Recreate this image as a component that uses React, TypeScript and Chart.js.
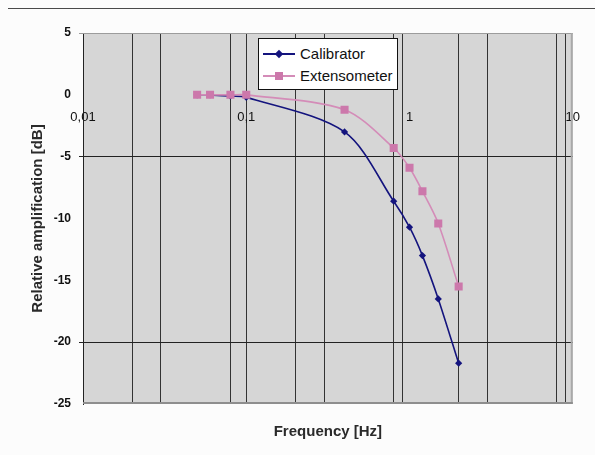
import React, { useEffect, useRef } from 'react';
import { Chart, registerables } from 'chart.js';

Chart.register(...registerables);

// ---- data ----
const frequencies = [0.05, 0.06, 0.08, 0.1, 0.4, 0.8, 1, 1.2, 1.5, 2];
const calibrator = [0, 0, -0.1, -0.2, -3.0, -8.6, -10.7, -13.0, -16.5, -21.7];
const extensometer = [0, 0, 0, 0, -1.2, -4.3, -5.9, -7.8, -10.4, -15.5];

const xTickValues = [0.01, 0.02, 0.03, 0.08, 0.1, 0.2, 0.3, 0.8, 0.9, 1, 2, 3, 8, 9, 10];
const xGridValues = [0.02, 0.03, 0.08, 0.1, 0.2, 0.3, 0.8, 0.9, 2, 3, 8, 9];
const xLabelValues = [0.01, 0.1, 1, 10];
const xLabelTexts = ['0,01', '0,1', '1', '10'];
const yGridValues = [-5, -20];

const FONT = 'Arial, "Liberation Sans", sans-serif';
const NAVY = '#14147e';
const PINK_MARK = '#cc78ab';
const PINK_LINE = '#d48cb8';

const near = (a: number, b: number) => Math.abs(a - b) < 1e-9;

const plotFrame = {
  id: 'plotFrame',
  beforeDraw(chart: any) {
    const { ctx, chartArea } = chart;
    const { left, top, right, bottom } = chartArea;
    ctx.save();
    ctx.fillStyle = '#d6d6d6';
    ctx.fillRect(left, top, right - left, bottom - top);
    ctx.restore();
  },
  beforeDatasetsDraw(chart: any) {
    const { ctx, chartArea } = chart;
    const { left, top, right, bottom } = chartArea;
    ctx.save();
    ctx.fillStyle = '#9c9c9c';
    ctx.fillRect(left, top, right - left, 1);
    ctx.fillStyle = '#a9a9a9';
    ctx.fillRect(right - 2, top, 2, bottom - top);
    ctx.fillStyle = '#8e8e8e';
    ctx.fillRect(left, bottom - 2, right - left, 2);
    ctx.restore();
  },
};

function LegendSample({ color, lineColor, shape }: { color: string; lineColor: string; shape: 'diamond' | 'square' }) {
  return (
    <div style={{ position: 'relative', width: 32, height: 12, marginRight: 5 }}>
      <div style={{ position: 'absolute', left: 0, right: 0, top: 5, height: 2, background: lineColor }} />
      {shape === 'diamond' ? (
        <div style={{ position: 'absolute', left: 13, top: 3, width: 6, height: 6, background: color, transform: 'rotate(45deg)' }} />
      ) : (
        <div style={{ position: 'absolute', left: 12, top: 2, width: 8, height: 8, background: color }} />
      )}
    </div>
  );
}

export default function App() {
  const canvasRef = useRef<HTMLCanvasElement | null>(null);

  useEffect(() => {
    document.body.style.background = '#fcfcfc';
    const canvas = canvasRef.current;
    if (!canvas) return;
    const chart = new Chart(canvas, {
      type: 'line',
      data: {
        datasets: [
          {
            label: 'Extensometer',
            data: frequencies.map((f, i) => ({ x: f, y: extensometer[i] })),
            borderColor: PINK_LINE,
            backgroundColor: PINK_MARK,
            pointBackgroundColor: PINK_MARK,
            pointBorderColor: PINK_MARK,
            pointStyle: 'rect',
            pointRadius: 5.7,
            pointBorderWidth: 0,
            borderWidth: 1.6,
            tension: 0.3,
            xAxisID: 'x',
            yAxisID: 'y',
            order: 1,
          },
          {
            label: 'Calibrator',
            data: frequencies.map((f, i) => ({ x: f, y: calibrator[i] })),
            borderColor: NAVY,
            backgroundColor: NAVY,
            pointBackgroundColor: NAVY,
            pointBorderColor: NAVY,
            pointStyle: 'rectRot',
            pointRadius: 3.6,
            pointBorderWidth: 0,
            borderWidth: 1.6,
            tension: 0.3,
            xAxisID: 'x',
            yAxisID: 'y',
            order: 2,
          },
        ],
      },
      options: {
        animation: false,
        responsive: false,
        events: [],
        layout: { padding: { top: 33, right: 20, left: 0, bottom: 0 } },
        plugins: {
          legend: { display: false },
          tooltip: { enabled: false },
          title: { display: false },
        },
        scales: {
          x: {
            type: 'logarithmic',
            position: { y: 0 } as any,
            min: 0.01,
            max: 10,
            afterBuildTicks: (scale: any) => {
              scale.ticks = xTickValues.map((v) => ({ value: v }));
            },
            ticks: {
              autoSkip: false,
              maxRotation: 0,
              minRotation: 0,
              padding: 15,
              color: '#111',
              font: { family: FONT, size: 13 },
              callback: (value: any) => {
                const idx = xLabelValues.findIndex((v) => near(v, Number(value)));
                return idx >= 0 ? xLabelTexts[idx] : '';
              },
            },
            grid: {
              drawTicks: false,
              lineWidth: 1,
              color: (ctx: any) =>
                ctx.tick && xGridValues.some((v) => near(v, ctx.tick.value)) ? '#333333' : 'rgba(0,0,0,0)',
            },
            border: { display: false },
          },
          x2: {
            type: 'linear',
            position: 'bottom',
            display: true,
            afterFit: (scale: any) => {
              scale.height = 51;
            },
            ticks: { display: false },
            grid: { display: false, drawTicks: false },
            border: { display: false },
            title: {
              display: true,
              text: 'Frequency [Hz]',
              color: '#2a2a2a',
              font: { family: FONT, size: 15, weight: 'bold' },
              padding: { top: 0, bottom: 14 },
            },
          },
          y: {
            type: 'linear',
            position: 'left',
            min: -25,
            max: 5,
            afterFit: (scale: any) => {
              scale.width = 83;
            },
            ticks: {
              stepSize: 5,
              padding: 8,
              color: '#111',
              font: { family: FONT, size: 12, weight: 'bold' },
            },
            grid: {
              drawTicks: true,
              tickLength: 4,
              lineWidth: 1,
              color: (ctx: any) =>
                ctx.tick && yGridValues.some((v) => near(v, ctx.tick.value)) ? '#222222' : 'rgba(0,0,0,0)',
              tickColor: (ctx: any) => {
                if (!ctx.tick) return 'rgba(0,0,0,0)';
                if (yGridValues.some((v) => near(v, ctx.tick.value))) return '#222222';
                if (near(ctx.tick.value, 5)) return '#9c9c9c';
                return 'rgba(0,0,0,0)';
              },
            },
            border: { display: true, color: '#222222', width: 1 },
            title: {
              display: true,
              text: 'Relative amplification [dB]',
              color: '#2a2a2a',
              font: { family: FONT, size: 15, weight: 'bold' },
              padding: { top: 29, bottom: 0 },
            },
          },
        },
      },
      plugins: [plotFrame],
    });
    return () => chart.destroy();
  }, []);

  return (
    <div style={{ position: 'absolute', left: 0, top: 0, width: 595, height: 455, overflow: 'hidden', background: '#fcfcfc' }}>
      <canvas ref={canvasRef} width={595} height={455} style={{ position: 'absolute', left: 0, top: 0, display: 'block' }} />
      <div style={{ position: 'absolute', left: 8, right: 0, top: 8, height: 1, background: '#4a4a4a' }} />
      <div
        style={{
          position: 'absolute',
          left: 258,
          top: 38,
          width: 138,
          height: 50,
          background: '#ffffff',
          border: '1px solid #111',
          fontFamily: FONT,
          fontSize: 15,
          color: '#111',
        }}
      >
        <div style={{ position: 'absolute', left: 4, top: 7, display: 'flex', alignItems: 'center', whiteSpace: 'nowrap', lineHeight: '16px' }}>
          <LegendSample color={NAVY} lineColor={NAVY} shape="diamond" />
          <span>Calibrator</span>
        </div>
        <div style={{ position: 'absolute', left: 4, top: 29, display: 'flex', alignItems: 'center', whiteSpace: 'nowrap', lineHeight: '16px' }}>
          <LegendSample color={PINK_MARK} lineColor={PINK_LINE} shape="square" />
          <span>Extensometer</span>
        </div>
      </div>
    </div>
  );
}
